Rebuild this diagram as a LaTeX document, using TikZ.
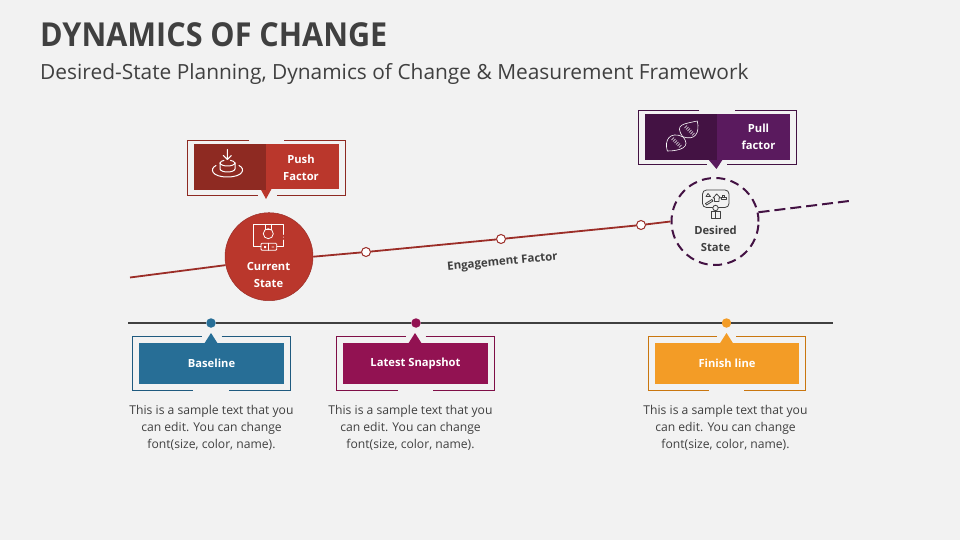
\documentclass[tikz,border=0pt]{standalone}
\usepackage{fontspec}
\setmainfont{Open Sans}
\usetikzlibrary{positioning}
\definecolor{page-bg}{HTML}{F2F2F2}
\definecolor{ink}{HTML}{404040}
\definecolor{push-red}{HTML}{BA372C}
\definecolor{push-dark}{HTML}{8E2A22}
\definecolor{line-red}{HTML}{9B2D27}
\definecolor{pull-purple}{HTML}{5A1A5E}
\definecolor{pull-dark}{HTML}{431243}
\definecolor{base-blue}{HTML}{276E96}
\definecolor{base-frame}{HTML}{1F5A7F}
\definecolor{snap-red}{HTML}{921252}
\definecolor{snap-frame}{HTML}{7F0F47}
\definecolor{finish-orange}{HTML}{F39C26}
\definecolor{finish-frame}{HTML}{C9760F}
\tikzset{
  boxlabel/.style={inner sep=0pt, text=white, font=\fontsize{11.2}{17}\selectfont\bfseries, align=center},
  tagbox/.style={boxlabel, minimum width=145pt, minimum height=41pt},
  halfbox/.style={inner sep=0pt, minimum width=72.5pt, minimum height=45pt},
  marker/.style={circle, draw=line-red, fill=white, line width=1pt, inner sep=0pt, minimum size=9pt},
  dot/.style={circle, inner sep=0pt, minimum size=9.5pt},
  sampletext/.style={text=ink, align=center, inner sep=0pt, font=\fontsize{12.15}{17}\selectfont},
  icon/.style={white, line width=1pt, line cap=round, line join=round},
  darkicon/.style={ink, line width=0.8pt, line cap=round, line join=round},
}
\begin{document}
\begin{tikzpicture}[x=1pt, y=-1pt]
  \useasboundingbox (0, 0) rectangle (960, 540);
  \fill[page-bg] (0, 0) rectangle (960, 540);
  % titles
  \node[anchor=west, inner sep=0pt, text=ink, xscale=0.925, transform shape, font=\fontsize{33}{36}\selectfont\bfseries] (title) at (40, 35) {DYNAMICS OF CHANGE};
  \node[anchor=west, inner sep=0pt, text=ink, font=\fontsize{20.9}{24}\selectfont] (subtitle) at (40, 74.5) {Desired-State Planning, Dynamics of Change \& Measurement Framework};
  % states
  \coordinate (riseStart) at (130, 277.5);
  \coordinate (riseEnd) at (849, 201);
  \node[marker] (markA) at (366, 252) {};
  \node[marker] (markB) at (501, 239) {};
  \node[marker] (markC) at (641, 225) {};
  \node[circle, fill=push-red, draw=line-red, line width=0.5pt, minimum size=88pt, inner sep=0pt] (current) at (269, 256.7) {};
  \node[circle, draw=pull-dark, line width=2pt, dash pattern=on 9pt off 5.5pt, minimum size=87pt, inner sep=0pt] (desired) at (715, 221.5) {};
  \draw[line-red, line width=1.8pt] (riseStart) -- (current.191);
  \draw[line-red, line width=1.8pt] (current.east) -- (markA) -- (markB) -- (markC) -- (desired.west);
  \draw[pull-dark, line width=2pt, dash pattern=on 11pt off 5pt] (desired.12) -- (riseEnd);
  \node[boxlabel] (currentText) at (268.5, 274.5) {Current\\State};
  \node[boxlabel, text=ink] (desiredText) at (715.5, 238.5) {Desired\\State};
  \node[text=ink, inner sep=0pt, rotate=5.5, font=\fontsize{11.5}{14}\selectfont\bfseries] (engage) at (502.5, 262.5) {Engagement Factor};
  % push factor
  \draw[push-dark, line width=0.8pt] (249, 140.5) -| (187.5, 195.5) -- (257.5, 195.5);
  \draw[push-dark, line width=0.8pt] (284, 140.5) -| (345.5, 195.5) -- (276.5, 195.5);
  \fill[push-red] (260, 188) -- (272, 188) -- (266, 199) -- cycle;
  \node[halfbox, fill=push-red] (pushBox) at (302.5, 166.5) {};
  \node[halfbox, fill=push-dark, minimum width=72pt, minimum height=46pt] (pushIcon) at (230, 167) {};
  \node[boxlabel] (pushText) at (301, 168) {Push\\Factor};
  % pull factor
  \draw[pull-dark, line width=0.8pt] (699, 110.5) -| (638.5, 164.5) -- (707, 164.5);
  \draw[pull-dark, line width=0.8pt] (735, 110.5) -| (796.5, 164.5) -- (727, 164.5);
  \fill[pull-purple] (708, 159) -- (723, 159) -- (716.5, 169) -- cycle;
  \node[halfbox, fill=pull-purple, minimum height=46pt] (pullBox) at (753.5, 137) {};
  \node[halfbox, fill=pull-dark, minimum width=72pt, minimum height=46pt] (pullIcon) at (681, 137) {};
  \node[boxlabel] (pullText) at (758.5, 137) {Pull\\factor};
  % icon of the push box
  \draw[icon] (227.3, 149.5) -- (227.3, 159.5) (223.3, 155.5) -- (227.3, 159.5) -- (231.3, 155.5);
  \draw[icon] (220, 163) -- (220, 169) .. controls (221, 173) and (234, 173) .. (235, 169) -- (235, 163);
  \draw[icon] (220, 163) .. controls (221, 167) and (234, 167) .. (235, 163);
  \draw[icon] (224, 160.4) .. controls (222, 160.8) and (220.5, 161.5) .. (220, 163);
  \draw[icon] (230.5, 160.4) .. controls (232.5, 160.8) and (234.5, 161.5) .. (235, 163);
  \draw[icon] (216, 165.5) .. controls (209, 169) and (212, 177) .. (227.3, 177) .. controls (243, 177) and (246, 169) .. (239, 165.5);
  % icon of the current state
  \draw[icon, line width=0.8pt] (261, 246) -- (253.3, 246) |- (283.3, 224.3) -- (283.3, 234.5);
  \draw[icon, line width=0.8pt] (283.3, 240) -- (283.3, 246) -- (277, 246);
  \draw[icon, line width=0.8pt] (268.3, 233.7) circle[radius=5];
  \draw[icon, line width=0.8pt] (265.7, 224.3) -- (265.7, 229) -- (271, 229) -- (271, 224.3);
  \draw[icon, line width=0.8pt, rounded corners=1pt] (261, 243.3) rectangle (276.7, 250.3);
  \draw[icon, line width=0.8pt] (268.8, 243.3) -- (268.8, 250.3);
  \fill[white] (264, 246) rectangle (266, 248) (271.5, 246.5) rectangle (274, 247.3) (283, 236.5) rectangle (283.6, 237.5);
  % icon of the pull box
  \draw[icon, line width=0.6pt] (682.7, 136.7) .. controls (674, 124) and (684, 124) .. (697.3, 121) .. controls (700, 133) and (695, 141) .. (682.7, 136.7);
  \draw[icon, line width=0.6pt] (682.7, 136.7) .. controls (670, 131) and (664, 140) .. (667.3, 151) .. controls (680, 151) and (692, 147) .. (682.7, 136.7);
  \foreach \d in {0, 1.5, 3, 4.5, 6, 7.5} {
    \draw[icon, line width=0.6pt] (684.5+\d, 128+\d) -- (687+\d, 125.5+\d);
    \draw[icon, line width=0.6pt] (671.5+\d, 140+\d) -- (674+\d, 137.5+\d);
  }
  % icon of the desired state
  \draw[darkicon, rounded corners=4pt] (702.5, 190) rectangle (729, 207.5);
  \draw[darkicon] (713, 198) -- (716.7, 194) -- (720.5, 198) -- (719, 198) -- (719, 201.5) -- (714.5, 201.5) -- (714.5, 198) -- cycle;
  \draw[darkicon] (706, 196.5) -- (708, 193.5) -- (710.5, 196.5) -- cycle;
  \draw[darkicon] (721, 197) rectangle (726, 199) (722.5, 197) -- (722.5, 195.5) -- (724.5, 195.5) -- (724.5, 197);
  \draw[darkicon] (705.5, 203.5) -- (712, 199.5) -- (713, 201) -- (706.5, 205) -- cycle;
  \draw[darkicon] (711, 218.5) -- (711, 211.5) -- (720, 211.5) -- (720, 218.5) -- cycle (715.5, 211.5) -- (715.5, 218.5);
  \draw[darkicon, fill=page-bg] (715.5, 208) circle[radius=2.7];
  % timeline
  \node[dot, fill=base-blue] (dotBase) at (211, 323) {};
  \node[dot, fill=snap-red] (dotSnap) at (416, 323) {};
  \node[dot, fill=finish-orange] (dotFinish) at (726.5, 323) {};
  \coordinate (timeStart) at (128, 323);
  \coordinate (timeEnd) at (833, 323);
  \draw[ink, line width=1.8pt] (timeStart) -- (dotBase) -- (dotSnap) -- (dotFinish) -- (timeEnd);
  % baseline
  \draw[base-frame, line width=0.8pt] (201.7, 336) -| (132.5, 390.3) -- (193, 390.3);
  \draw[base-frame, line width=0.8pt] (221.7, 336) -| (290.7, 390.3) -- (229, 390.3);
  \fill[base-blue] (204, 344) -- (218, 344) -- (211, 333) -- cycle;
  \node[tagbox, fill=base-blue] (baseBox) at (211.5, 363.5) {Baseline};
  \node[sampletext] (baseText) at (211.5, 428) {This is a sample text that you\\can edit. You can change\\font(size, color, name).};
  % latest snapshot
  \draw[snap-frame, line width=0.8pt] (405.7, 336) -| (336.5, 390.3) -- (397.7, 390.3);
  \draw[snap-frame, line width=0.8pt] (425.7, 336) -| (494.7, 390.3) -- (433, 390.3);
  \fill[snap-red] (408, 344) -- (422, 344) -- (415, 333) -- cycle;
  \node[tagbox, fill=snap-red] (snapBox) at (415.5, 363.5) {Latest Snapshot};
  \node[sampletext] (snapText) at (410.5, 428) {This is a sample text that you\\can edit. You can change\\font(size, color, name).};
  % finish line
  \draw[finish-frame, line width=0.8pt] (717, 336) -| (648.5, 390.3) -- (709, 390.3);
  \draw[finish-frame, line width=0.8pt] (736, 336) -| (805.7, 390.3) -- (744, 390.3);
  \fill[finish-orange] (719.5, 344) -- (733.5, 344) -- (726.5, 333) -- cycle;
  \node[tagbox, fill=finish-orange, minimum width=144pt] (finishBox) at (727, 363.5) {Finish line};
  \node[sampletext] (finishText) at (725.5, 428) {This is a sample text that you\\can edit. You can change\\font(size, color, name).};
\end{tikzpicture}
\end{document}
